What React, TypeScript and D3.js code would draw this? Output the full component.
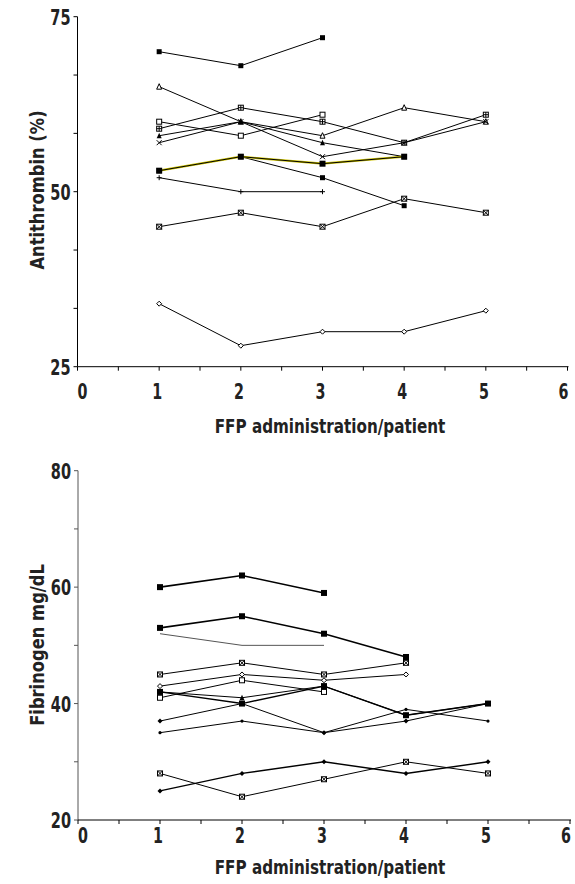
import React from 'react';
import * as d3 from 'd3';

// FFP administrations on the x axis
const visits = [1, 2, 3, 4, 5];
const xTickValues = [0, 1, 2, 3, 4, 5, 6];

// Antithrombin (%) per patient
const atFilledSquare = [70, 68, 72];
const atOpenTriangle = [65, 60, 58, 62, 60];
const atOpenSquare = [60, 58, 61];
const atBoxPlus = [59, 62, 60, 57, 61];
const atFilledTriangle = [58, 60, 57, 55];
const atCross = [57, 60, 55, 57, 60];
const atSquareDrop = [53, 55, 52, 48];
const atYellow = [53, 55, 54, 55];
const atPlus = [52, 50, 50];
const atBoxCross = [45, 47, 45, 49, 47];
const atDiamond = [34, 28, 30, 30, 33];
const atTickLabels = [25, 50, 75];

// Fibrinogen mg/dL per patient
const fbSquareHigh = [60, 62, 59];
const fbSquareMid = [53, 55, 52, 48];
const fbPlain = [52, 50, 50];
const fbCross = [45, 47, 45, 47];
const fbOpenDiamond = [43, 45, 44, 45];
const fbOpenSquare = [41, 44, 42];
const fbTriangle = [42, 41, 43, 38, 40];
const fbSquareLow = [42, 40, 43, 38, 40];
const fbFilledDiamond = [37, 40, 35, 37, 40];
const fbDot = [35, 37, 35, 39, 37];
const fbBoxCross = [28, 24, 27, 30, 28];
const fbDiamondLow = [25, 28, 30, 28, 30];
const fbTickLabels = [20, 40, 60, 80];

const font = "'DejaVu Sans', sans-serif";

type Series = { values: number[]; marker: string; color?: string; width?: number; halo?: string; size?: number };

const atSeries: Series[] = [
  { values: atFilledSquare, marker: 'sq' },
  { values: atOpenTriangle, marker: 'otri' },
  { values: atOpenSquare, marker: 'osq' },
  { values: atBoxPlus, marker: 'boxplus' },
  { values: atFilledTriangle, marker: 'tri' },
  { values: atCross, marker: 'x' },
  { values: atSquareDrop, marker: 'sq' },
  { values: atYellow, marker: 'sq', halo: '#cfc400', size: 6 },
  { values: atPlus, marker: 'plus' },
  { values: atBoxCross, marker: 'boxx' },
  { values: atDiamond, marker: 'odia' },
];

const fbSeries: Series[] = [
  { values: fbSquareHigh, marker: 'sq', width: 1.6, size: 6 },
  { values: fbSquareMid, marker: 'sq', width: 1.6, size: 6 },
  { values: fbPlain, marker: 'none', color: '#555' },
  { values: fbCross, marker: 'boxx' },
  { values: fbOpenDiamond, marker: 'odia' },
  { values: fbOpenSquare, marker: 'osq' },
  { values: fbTriangle, marker: 'tri' },
  { values: fbSquareLow, marker: 'sq', width: 1.4, size: 6 },
  { values: fbFilledDiamond, marker: 'dia' },
  { values: fbDot, marker: 'dot' },
  { values: fbBoxCross, marker: 'boxx' },
  { values: fbDiamondLow, marker: 'dia', width: 1.4 },
];

// narrow bold text: the original uses a condensed face, so squeeze DejaVu horizontally
function NText({ x, y, size, sx, anchor = 'middle', rotate = 0, children }:
  { x: number; y: number; size: number; sx: number; anchor?: string; rotate?: number; children: React.ReactNode }) {
  return (
    <text transform={`translate(${x},${y}) rotate(${rotate}) scale(${sx},1)`} textAnchor={anchor}
      fontSize={size} fontWeight="bold" fontFamily={font} fill="#222">{children}</text>
  );
}

function Marker({ type, x, y, s = 5 }: { type: string; x: number; y: number; s?: number }) {
  const h = s / 2;
  const st = { stroke: '#000', strokeWidth: 1 };
  switch (type) {
    case 'sq':
      return <rect x={x - h} y={y - h} width={s} height={s} fill="#000" />;
    case 'osq':
      return <rect x={x - h} y={y - h} width={s} height={s} fill="#fff" {...st} />;
    case 'boxplus':
      return <g><rect x={x - h} y={y - h} width={s} height={s} fill="#fff" {...st} /><path d={`M${x - h},${y}H${x + h}M${x},${y - h}V${y + h}`} {...st} /></g>;
    case 'boxx':
      return <g><rect x={x - h} y={y - h} width={s} height={s} fill="#fff" {...st} /><path d={`M${x - h},${y - h}L${x + h},${y + h}M${x + h},${y - h}L${x - h},${y + h}`} {...st} /></g>;
    case 'tri':
      return <path d={`M${x},${y - h - 0.5}L${x + h},${y + h}L${x - h},${y + h}Z`} fill="#000" />;
    case 'otri':
      return <path d={`M${x},${y - h - 0.5}L${x + h},${y + h}L${x - h},${y + h}Z`} fill="#fff" {...st} />;
    case 'x':
      return <path d={`M${x - h},${y - h}L${x + h},${y + h}M${x + h},${y - h}L${x - h},${y + h}`} {...st} />;
    case 'plus':
      return <path d={`M${x - h},${y}H${x + h}M${x},${y - h}V${y + h}`} {...st} />;
    case 'dia':
      return <path d={`M${x},${y - h}L${x + h},${y}L${x},${y + h}L${x - h},${y}Z`} fill="#000" />;
    case 'odia':
      return <path d={`M${x},${y - h}L${x + h},${y}L${x},${y + h}L${x - h},${y}Z`} fill="#fff" {...st} />;
    case 'dot':
      return <circle cx={x} cy={y} r={1.6} fill="#000" />;
    default:
      return null;
  }
}

function Panel({ x0, x1, yTop, yBottom, domain, labels, title, titleY, series, xLabelY, xTitleY, axisColor }:
  { x0: number; x1: number; yTop: number; yBottom: number; domain: [number, number]; labels: number[]; title: string; titleY: number;
    series: Series[]; xLabelY: number; xTitleY: number; axisColor: string }) {
  const x = d3.scaleLinear().domain([0, 6]).range([x0, x1]);
  const y = d3.scaleLinear().domain(domain).range([yBottom, yTop]);
  const minorStep = (domain[1] - domain[0]) / 6;
  const yTicks = d3.range(0, 7).map(i => domain[0] + i * minorStep);
  const xTicks = d3.range(0, 13).map(i => i / 2);
  const line = d3.line<number>().x((d, i) => x(visits[i])).y(d => y(d));
  // end labels sit a little inside the axis ends
  const labelX = (t: number) => (t === 0 ? x(t) + 5 : t === 6 ? x(t) - 4 : x(t) - 2);

  return (
    <g>
      <line x1={x0} x2={x0} y1={y(domain[1])} y2={yBottom} stroke={axisColor} />
      <line x1={x0} x2={x1 + 1} y1={yBottom} y2={yBottom} stroke="#000" />
      {yTicks.map(t => (
        <line key={'yt' + t} x1={x0 - 4} x2={x0} y1={y(t)} y2={y(t)} stroke={axisColor} />
      ))}
      {xTicks.map(t => (
        <line key={'xt' + t} x1={x(t)} x2={x(t)} y1={yBottom} y2={yBottom + 4} stroke="#000" />
      ))}
      {labels.map(t => (
        <NText key={'yl' + t} x={x0 - 7} y={y(t) + 8} size={22} sx={0.66} anchor="end">{t}</NText>
      ))}
      {xTickValues.map(t => (
        <NText key={'xl' + t} x={labelX(t)} y={xLabelY} size={21} sx={0.68}>{t}</NText>
      ))}
      <NText x={330} y={xTitleY} size={19} sx={0.8}>FFP administration/patient</NText>
      <NText x={44} y={titleY} size={19} sx={0.86} rotate={-90}>{title}</NText>
      {series.map((s, i) => (
        <g key={'s' + i}>
          {s.halo && <path d={line(s.values) || ''} fill="none" stroke={s.halo} strokeWidth={2.2} />}
          <path d={line(s.values) || ''} fill="none" stroke={s.color || '#000'} strokeWidth={s.width || 1} />
          {s.values.map((v, j) => (
            <Marker key={j} type={s.marker} x={x(visits[j])} y={y(v)} s={s.size || 5} />
          ))}
        </g>
      ))}
    </g>
  );
}

export default function App() {
  return (
    <svg width={575} height={884} style={{ position: 'absolute', left: 0, top: 0, background: '#fff' }}>
      <rect width={575} height={884} fill="#fff" />
      <Panel x0={77.5} x1={567.5} yTop={16.7} yBottom={366.7} domain={[25, 75]} labels={atTickLabels}
        title="Antithrombin (%)" titleY={190} series={atSeries} xLabelY={399} xTitleY={433} axisColor="#000" />
      <Panel x0={78} x1={570} yTop={470.7} yBottom={820} domain={[20, 80]} labels={fbTickLabels}
        title="Fibrinogen mg/dL" titleY={645} series={fbSeries} xLabelY={843} xTitleY={874} axisColor="#555" />
    </svg>
  );
}
